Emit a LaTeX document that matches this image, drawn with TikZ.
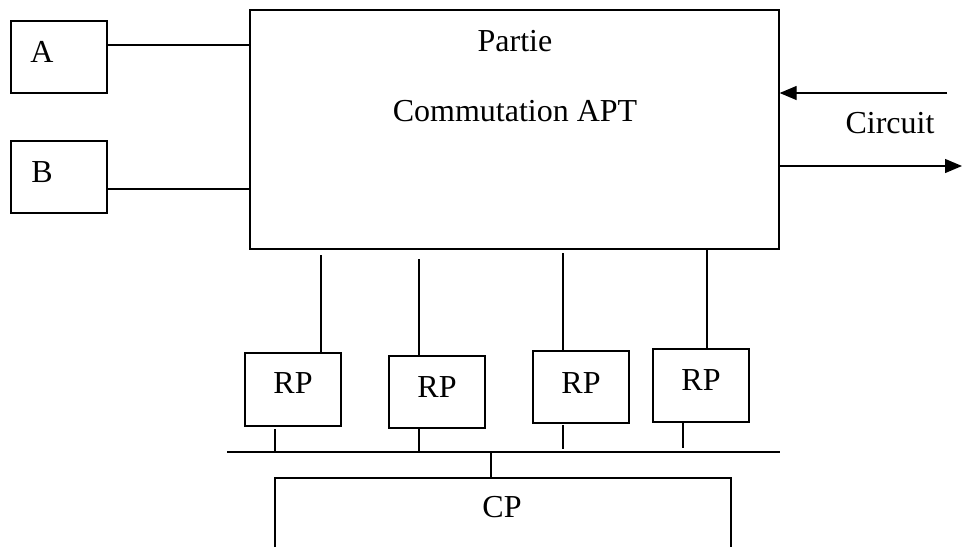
\documentclass[tikz,border=0pt]{standalone}
\usepackage{fontspec}
\setmainfont{Liberation Serif}
\usetikzlibrary{arrows.meta}
\begin{document}
\begin{tikzpicture}[x=1pt,y=-1pt,
  box/.style={draw,line width=1.3pt,rectangle,inner sep=0pt},
  lbl/.style={anchor=base,inner sep=0pt,font=\fontsize{32}{38}\selectfont},
  wire/.style={line width=1.3pt},
  arr/.style={line width=1.3pt,-{Triangle[length=17pt,width=14pt]}}]
\useasboundingbox (0,0) rectangle (962,547);
% left boxes
\node[box,minimum width=96pt,minimum height=72pt] (A) at (59,57) {};
\node[lbl] (tA) at (42,62) {A};
\node[box,minimum width=96pt,minimum height=72pt] (B) at (59,177) {};
\node[lbl] (tB) at (42,182) {B};
% main box
\node[box,minimum width=529pt,minimum height=239pt] (M) at (514.5,129.5) {};
\node[lbl] (t1) at (515,51) {Partie};
\node[lbl] (t2) at (515,121) {Commutation APT};
\draw[wire] (A.east |- 0,45) -- (M.west |- 0,45);
\draw[wire] (B.east |- 0,189) -- (M.west |- 0,189);
% circuit arrows
\coordinate (cin) at (947,93);
\coordinate (cout) at (962,166);
\draw[arr] (cin) -- (M.east |- cin);
\draw[arr] (M.east |- cout) -- (cout);
\node[lbl] (tc) at (890,133) {Circuit};
% RP boxes
\node[box,minimum width=96pt,minimum height=73pt] (R1) at (293,389.5) {};
\node[lbl] (r1) at (293,393) {RP};
\node[box,minimum width=96pt,minimum height=72pt] (R2) at (437,392) {};
\node[lbl] (r2) at (437,397) {RP};
\node[box,minimum width=96pt,minimum height=72pt] (R3) at (581,387) {};
\node[lbl] (r3) at (581,393) {RP};
\node[box,minimum width=96pt,minimum height=73pt] (R4) at (701,385.5) {};
\node[lbl] (r4) at (701,390) {RP};
% lines from main box to RPs (with gaps as drawn)
\coordinate (u1) at (321,255);
\coordinate (u2) at (419,259);
\coordinate (u3) at (563,253);
\draw[wire] (u1) -- (u1 |- R1.north);
\draw[wire] (u2) -- (u2 |- R2.north);
\draw[wire] (u3) -- (u3 |- R3.north);
\draw[wire] (M.south -| 707,0) -- (R4.north -| 707,0);
% bus
\coordinate (busL) at (227,452);
\coordinate (busR) at (780,452);
\draw[wire] (busL) -- (busR);
\coordinate (d1) at (275,429);
\coordinate (d2) at (419,429);
\coordinate (d3) at (563,425);
\coordinate (d4) at (683,423);
\draw[wire] (d1) -- (d1 |- busL);
\draw[wire] (d2) -- (d2 |- busL);
\draw[wire] (d3) -- (d3 |- 0,449);
\draw[wire] (d4) -- (d4 |- 0,448);
% CP
\coordinate (cpL) at (275,547);
\coordinate (cpTL) at (275,478);
\coordinate (cpTR) at (731,478);
\coordinate (cpR) at (731,547);
\draw[wire] (cpL) -- (cpTL) -- (cpTR) -- (cpR);
\coordinate (cpc) at (491,478);
\draw[wire] (cpc |- busL) -- (cpc);
\node[lbl] (tcp) at (502,517) {CP};
\end{tikzpicture}
\end{document}
